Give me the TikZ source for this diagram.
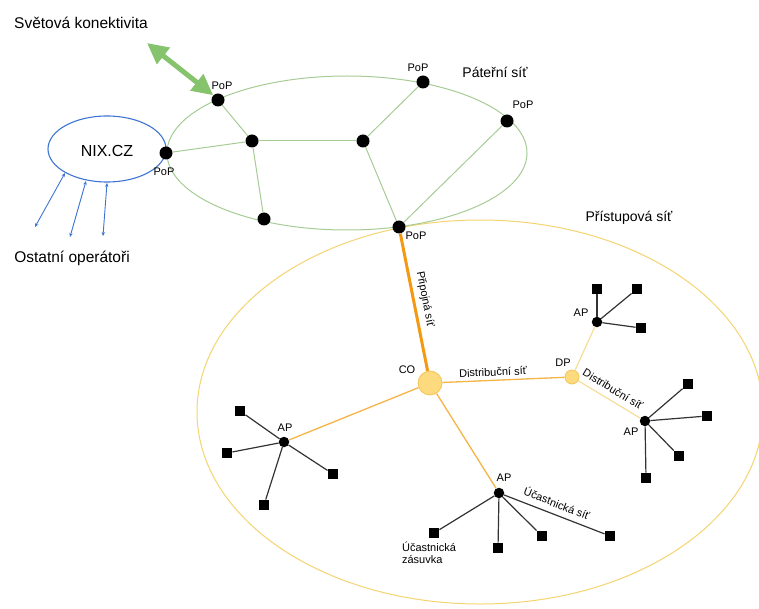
\documentclass[tikz,border=0pt]{standalone}
\usepackage{fontspec}
\setmainfont{Liberation Sans}
\usetikzlibrary{arrows.meta}

\definecolor{bbgreen}{HTML}{A6CB94}
\definecolor{arrowgreen}{HTML}{86C36D}
\definecolor{nixblue}{HTML}{3D75D2}
\definecolor{accgold}{HTML}{F4D470}
\definecolor{uplink}{HTML}{F39A12}
\definecolor{distorange}{HTML}{F5B446}
\definecolor{paleyellow}{HTML}{F6DD98}
\definecolor{cofill}{HTML}{FDDA7E}
\definecolor{costroke}{HTML}{F2C55A}
\definecolor{wire}{HTML}{333333}

\tikzset{
  bbnode/.style={circle, fill=black, inner sep=0pt, minimum size=13pt},
  apnode/.style={circle, fill=black, inner sep=0pt, minimum size=10.5pt},
  term/.style={rectangle, fill=black, inner sep=0pt, minimum size=10.5pt},
  hub/.style={circle, fill=cofill, draw=costroke, line width=0.8pt, inner sep=0pt},
  small/.style={font=\fontsize{11}{13}\selectfont, inner sep=1pt},
  big/.style={font=\fontsize{15.5}{18}\selectfont, inner sep=1pt},
  mid/.style={font=\fontsize{14}{17}\selectfont, inner sep=1pt},
  bblink/.style={draw=bbgreen, line width=1pt},
  droplink/.style={draw=wire, line width=1.2pt},
  nixarrow/.style={draw=nixblue, line width=0.9pt,
    {Stealth[length=4pt,width=3.5pt]}-{Stealth[length=4pt,width=3.5pt]}},
}

\begin{document}
\begin{tikzpicture}[x=1pt,y=-1pt]
\useasboundingbox (0,0) rectangle (759,609);

% access network outline (runs past the right edge)
\begin{scope}
  \clip (0,0) rectangle (759,609);
  \draw[accgold, line width=1pt] (480,412) ellipse [x radius=283pt, y radius=192pt];
\end{scope}

% backbone outline and NIX.CZ
\draw[bbgreen, line width=1pt] (347,153) ellipse [x radius=180pt, y radius=77pt];
\draw[nixblue, line width=1.1pt] (107,149) ellipse [x radius=59pt, y radius=33pt];
\node[font=\fontsize{16}{19}\selectfont] (nix) at (107,151) {NIX.CZ};

% backbone nodes
\node[bbnode] (p1) at (218,100) {};
\node[bbnode] (p2) at (166,153) {};
\node[bbnode] (p3) at (423,82) {};
\node[bbnode] (p4) at (507,121) {};
\node[bbnode] (p5) at (399,227) {};
\node[bbnode] (n1) at (252,141) {};
\node[bbnode] (n2) at (363,141) {};
\node[bbnode] (n3) at (264,219) {};

\draw[bblink] (p1) -- (n1);
\draw[bblink] (p2) -- (n1);
\draw[bblink] (n1) -- (n2);
\draw[bblink] (n1) -- (n3);
\draw[bblink] (n2) -- (p3);
\draw[bblink] (n2) -- (p5);
\draw[bblink] (p4) -- (p5);

\node[small] (l1) at (222,86) {PoP};
\node[small] (l2) at (164,172) {PoP};
\node[small] (l3) at (418,68) {PoP};
\node[small] (l4) at (523,105) {PoP};
\node[small] (l5) at (416,236) {PoP};

% world connectivity
\coordinate (world) at (147,43);
\draw[arrowgreen, line width=5pt,
  {Triangle[length=21pt,width=20pt]}-{Triangle[length=21pt,width=20pt]}]
  (world) -- (p1.north west);
\node[big] (tw) at (81,23) {Světová konektivita};

% other operators
\coordinate (o1) at (35,227);
\coordinate (o2) at (70,237);
\coordinate (o3) at (103,236);
\coordinate (e1) at (65,173);
\coordinate (e2) at (86,181);
\coordinate (e3) at (107,183);
\draw[nixarrow] (o1) -- (e1);
\draw[nixarrow] (o2) -- (e2);
\draw[nixarrow] (o3) -- (e3);
\node[big] (to) at (72,258) {Ostatní operátoři};

\node[mid] (tp) at (495,72) {Páteřní síť};
\node[mid] (ta) at (629,218) {Přístupová síť};

% access network
\node[hub, minimum size=24pt] (co) at (430,383) {};
\node[hub, minimum size=14pt] (dp) at (572,377) {};
\node[apnode] (apT) at (597,322) {};
\node[apnode] (apR) at (645,421) {};
\node[apnode] (apL) at (284,442) {};
\node[apnode] (apB) at (499,493) {};

\draw[uplink, line width=3pt] (p5) -- (co);
\draw[distorange, line width=1.3pt] (co) -- (dp);
\draw[distorange, line width=1.3pt] (co) -- (apL);
\draw[distorange, line width=1.3pt] (co) -- (apB);
\draw[paleyellow, line width=1.2pt] (dp) -- (apT);
\draw[paleyellow, line width=1.2pt] (dp) -- (apR);

% subscriber sockets
\node[term] (tT1) at (597,289) {};
\node[term] (tT2) at (637,289) {};
\node[term] (tT3) at (641,328) {};
\node[term] (tR1) at (688,384) {};
\node[term] (tR2) at (707,416) {};
\node[term] (tR3) at (679,456) {};
\node[term] (tR4) at (646,478) {};
\node[term] (tL1) at (240,411) {};
\node[term] (tL2) at (227,453) {};
\node[term] (tL3) at (333,474) {};
\node[term] (tL4) at (264,505) {};
\node[term] (tB1) at (434,533) {};
\node[term] (tB2) at (498,548) {};
\node[term] (tB3) at (542,536) {};
\node[term] (tB4) at (610,536) {};

\foreach \t in {tT1,tT2,tT3} \draw[droplink] (apT) -- (\t);
\foreach \t in {tR1,tR2,tR3,tR4} \draw[droplink] (apR) -- (\t);
\foreach \t in {tL1,tL2,tL3,tL4} \draw[droplink] (apL) -- (\t);
\foreach \t in {tB1,tB2,tB3,tB4} \draw[droplink] (apB) -- (\t);

% labels
\node[small] (lco) at (407,370) {CO};
\node[small] (ldp) at (563,363) {DP};
\node[small] (lapT) at (581,313) {AP};
\node[small] (lapR) at (631,432) {AP};
\node[small] (lapL) at (285,428) {AP};
\node[small] (lapB) at (504,478) {AP};
\node[small, rotate=-79] (lup) at (425,299) {Připojná síť};
\node[small, rotate=2.4] (ld1) at (493,372) {Distribuční síť};
\node[small, rotate=-31] (ld2) at (613,389) {Distribuční síť};
\node[small, rotate=-21] (lsub) at (557,503) {Účastnická síť};
\node[small, align=left] (lsock) at (429,553) {Účastnická\\[-1pt]zásuvka};
\end{tikzpicture}
\end{document}
